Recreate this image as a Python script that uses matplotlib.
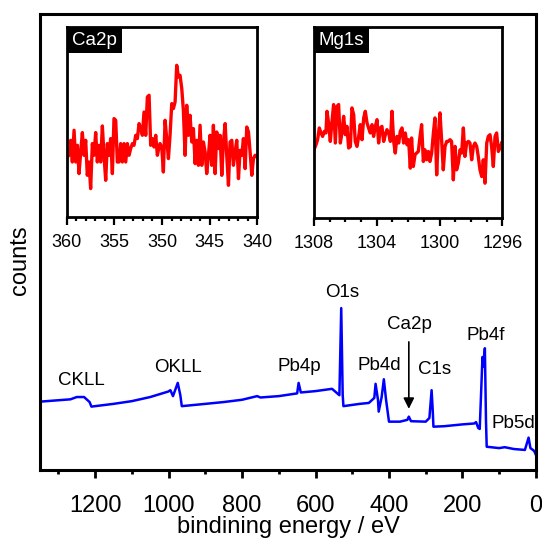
'''
XPS survey spectrum with Ca2p and Mg1s detail insets
'''
import matplotlib
matplotlib.use('Agg')
import matplotlib.pyplot as plt
from matplotlib.patches import Rectangle

plt.rcParams['font.family'] = ['Liberation Sans', 'DejaVu Sans']

# ----------------------------
# survey spectrum (binding energy / eV, normalised counts)
survey_be = [1348, 1267, 1250, 1230, 1215, 1210, 1150, 1100, 1050, 1001, 995, 988, 975, 968, 964,
             900, 850, 800, 759, 750, 700, 650, 646, 640, 600, 555, 545, 535, 530, 526, 524,
             480, 455, 440, 436.5, 430, 428, 420, 414, 408, 400, 370, 350, 346, 340, 300, 290,
             284, 281, 279, 250, 200, 168, 163, 157, 153, 145.5, 142, 139, 136, 134, 100, 85,
             60, 30, 20, 15, 5, 0]
survey_cnt = [0.150, 0.155, 0.160, 0.160, 0.149, 0.139, 0.145, 0.151, 0.160, 0.172, 0.175, 0.162,
              0.191, 0.164, 0.140, 0.145, 0.149, 0.154, 0.162, 0.159, 0.162, 0.168, 0.191, 0.170,
              0.173, 0.178, 0.171, 0.164, 0.355, 0.164, 0.140, 0.145, 0.147, 0.158, 0.189, 0.154,
              0.128, 0.160, 0.199, 0.154, 0.106, 0.106, 0.110, 0.117, 0.107, 0.106, 0.114, 0.175,
              0.132, 0.095, 0.096, 0.100, 0.102, 0.105, 0.092, 0.090, 0.248, 0.227, 0.267, 0.110,
              0.051, 0.048, 0.050, 0.046, 0.044, 0.071, 0.048, 0.042, 0.033]

peak_names = ['CKLL', 'OKLL', 'Pb4p', 'O1s', 'Pb4d', 'Ca2p', 'C1s', 'Pb4f', 'Pb5d']
peak_be    = [1237, 975, 644, 527, 425.6, 343, 275.5, 136, 62.7]
peak_cnt   = [0.197, 0.225, 0.226, 0.389, 0.230, 0.320, 0.221, 0.294, 0.101]

# ----------------------------
# Ca2p detail
ca_be = [360.0, 359.76, 359.58, 359.41, 359.23, 359.06, 358.88, 358.71, 358.53, 358.36, 358.19,
         358.01, 357.84, 357.66, 357.49, 357.31, 357.14, 356.96, 356.79, 356.61, 356.44, 356.26,
         356.09, 355.91, 355.74, 355.56, 355.39, 355.21, 355.04, 354.86, 354.69, 354.51, 354.34,
         354.16, 353.99, 353.81, 353.64, 353.46, 353.29, 353.11, 352.94, 352.76, 352.59, 352.41,
         352.24, 352.06, 351.89, 351.71, 351.54, 351.36, 351.19, 351.01, 350.84, 350.66, 350.49,
         350.31, 350.21, 350.03, 349.86, 349.68, 349.51, 349.33, 349.16, 348.98, 348.81, 348.63,
         348.46, 348.28, 348.11, 347.93, 347.76, 347.58, 347.41, 347.23, 347.06, 346.88, 346.71,
         346.53, 346.36, 346.18, 346.01, 345.83, 345.66, 345.48, 345.31, 345.13, 344.96, 344.78,
         344.61, 344.43, 344.26, 344.08, 343.91, 343.73, 343.56, 343.38, 343.21, 343.03, 342.86,
         342.68, 342.51, 342.33, 342.16, 341.98, 341.81, 341.63, 341.46, 341.28, 341.11, 340.93,
         340.76, 340.58, 340.41, 340.23, 340.0]
ca_cnt = [60, 62, 77, 55.3, 87, 55.3, 72, 43.7, 65.3, 84.7, 62, 77, 42, 55.3, 28.7, 73.7, 62, 84.7,
          55.3, 72, 55.3, 91.3, 62, 37, 73.7, 62, 78.7, 43.7, 98.7, 97, 55.3, 55.3, 73.7, 55.3,
          73.7, 55.3, 73.7, 62, 68.7, 73.7, 72, 82, 78.7, 93.7, 88.7, 82, 105.3, 82, 120.3, 122,
          72, 78.7, 70.3, 82, 62, 70.3,
          73.7, 70.3, 45.3, 97, 78.7, 58.7, 82, 113.7, 108.7, 115.3, 152, 140.3, 142, 128.7, 107,
          62, 112, 82, 102, 75.3, 88.7, 53.7, 77, 52, 92, 52, 75.3, 65.3, 43.7, 62, 82, 52, 92,
          43.7, 85.3, 68.7, 82, 42, 75.3, 93.7, 62, 32, 75.3, 77, 52, 65.3, 77, 38.7, 67, 62, 78.7,
          48.7, 90.3, 85.3, 65.3, 42, 58.7, 62, 60]

# ----------------------------
# Mg1s detail
mg_be = [1308.0, 1307.87, 1307.77, 1307.66, 1307.55, 1307.45, 1307.34, 1307.24, 1307.17, 1307.07,
         1306.96, 1306.85, 1306.75, 1306.64, 1306.53, 1306.43, 1306.32, 1306.22, 1306.11, 1306.00,
         1305.90, 1305.79, 1305.68, 1305.58, 1305.47, 1305.37, 1305.26, 1305.15, 1305.05, 1304.94,
         1304.83, 1304.73, 1304.62, 1304.52, 1304.41, 1304.30, 1304.20, 1304.09, 1303.98, 1303.88,
         1303.77, 1303.67, 1303.56, 1303.45, 1303.35, 1303.24, 1303.13, 1303.03, 1302.92, 1302.82,
         1302.71, 1302.60, 1302.50, 1302.39, 1302.29, 1302.18, 1302.07, 1301.97, 1301.86,
         1301.78, 1301.67, 1301.56, 1301.46, 1301.35, 1301.24, 1301.14, 1301.03, 1300.93, 1300.82,
         1300.71, 1300.61, 1300.50, 1300.39, 1300.29, 1300.18, 1300.08, 1299.97, 1299.86, 1299.76,
         1299.65, 1299.54, 1299.44, 1299.33, 1299.23, 1299.12, 1299.01, 1298.91, 1298.80, 1298.69,
         1298.59, 1298.48, 1298.38, 1298.27, 1298.16, 1298.06, 1297.95, 1297.84, 1297.74, 1297.63,
         1297.53, 1297.42, 1297.31, 1297.21, 1297.10, 1296.99, 1296.89, 1296.78, 1296.68, 1296.57,
         1296.46, 1296.36, 1296.25, 1296.15, 1296.04]
mg_cnt = [68, 73, 78, 89.7, 84.7, 81.3, 86.3, 84.7, 106.3, 94.7, 76.3, 96.3, 113, 74.7, 111.3, 113,
          74.7, 84.7, 101.3, 83, 91.3, 69.7, 71.3, 109.7, 103, 76.3, 71.3, 81.3, 93, 78, 99.7,
          106.3, 94.7, 89.7, 84.7, 93, 81.3, 91.3, 98, 74.7, 89.7, 91.3, 76.3, 83, 88, 84.7, 76.3,
          106.3, 76.3, 64.7, 81.3, 74.7, 86.3, 89.7, 74.7, 84.7, 73, 78, 49.7,
          79.7, 51.3, 63, 64.7, 66.3, 81.3, 93, 56.3, 68, 58, 66.3, 56.3, 64.7, 84.7, 99.7, 43,
          81.3, 104.7, 76.3, 48, 71.3, 76.3, 76.3, 78, 76.3, 38, 71.3, 48, 54.7, 68, 64.7, 89.7,
          61.3, 74.7, 76.3, 74.7, 58, 71.3, 74.7, 71.3, 61.3, 48, 41.3, 58, 34.7, 74.7, 81.3, 83,
          71.3, 51.3, 81.3, 84.7, 66.3, 69.7, 74.7]

# ----------------------------
def _style_axis(ax, lw : float) -> None:
    for spine in ax.spines.values():
        spine.set_linewidth(lw)
    ax.set_yticks([])
# ----------------------------
def _add_inset(fig, rect : list, be : list, cnt : list, xlim : tuple, major : float, name : str):
    ax = fig.add_axes(rect)
    ax.plot(be, cnt, color='#ff0000', lw=2.4)
    ax.set_xlim(*xlim)
    ax.set_ylim(0, 190)
    _style_axis(ax, 2.0)
    ax.set_xticks([xlim[0] - i * major for i in range(int(round((xlim[0] - xlim[1]) / major)) + 1)])
    ax.set_xticks([xlim[0] - i for i in range(int(xlim[0] - xlim[1]) + 1)], minor=True)
    ax.xaxis.set_major_formatter(plt.FormatStrFormatter('%d'))
    ax.tick_params(axis='x', which='major', direction='out', length=6, width=1.6, labelsize=13, pad=6)
    ax.tick_params(axis='x', which='minor', direction='out', length=3, width=1.6)

    ax.add_patch(Rectangle((0, 0.863), 0.29, 0.137, transform=ax.transAxes, facecolor='black',
                           edgecolor='none', clip_on=False, zorder=5))
    ax.text(0.145, 0.932, name, transform=ax.transAxes, color='white', fontsize=13.5,
            ha='center', va='center', zorder=6)
    return ax
# ----------------------------
def main():
    fig = plt.figure(figsize=(5.42, 5.38), dpi=100)
    ax  = fig.add_axes([0.0738, 0.1264, 0.915, 0.8476])

    ax.plot(survey_be, survey_cnt, color='#0000ff', lw=1.8)
    ax.set_xlim(1350, 0)
    ax.set_ylim(0, 1)
    _style_axis(ax, 2.2)
    ax.set_xticks([1200, 1000, 800, 600, 400, 200, 0])
    ax.set_xticks(list(range(1300, -1, -100)), minor=True)
    ax.tick_params(axis='x', which='major', direction='out', length=6, width=2, labelsize=17, pad=12)
    ax.tick_params(axis='x', which='minor', direction='out', length=3, width=2)
    ax.set_xlabel('bindining energy / eV', fontsize=17, va='top')
    ax.xaxis.set_label_coords(0.5, -0.101)
    fig.text(0.037, 0.516, 'counts', rotation=90, fontsize=17, ha='center', va='center')

    for name, be, cnt in zip(peak_names, peak_be, peak_cnt):
        ax.text(be, cnt, name, fontsize=13.5, ha='center', va='center')

    ax.annotate('', xy=(346, 0.128), xytext=(346, 0.287),
                arrowprops=dict(arrowstyle='-|>', color='black', lw=1.2, mutation_scale=16))

    _add_inset(fig, [0.1231, 0.5961, 0.3517, 0.3532], ca_be, ca_cnt, (360, 340), 5, 'Ca2p')
    _add_inset(fig, [0.5793, 0.5948, 0.3474, 0.3545], mg_be, mg_cnt, (1308, 1296), 4, 'Mg1s')

    fig.savefig('out.png', dpi=100)
    plt.close(fig)
# ----------------------------
if __name__ == '__main__':
    main()
